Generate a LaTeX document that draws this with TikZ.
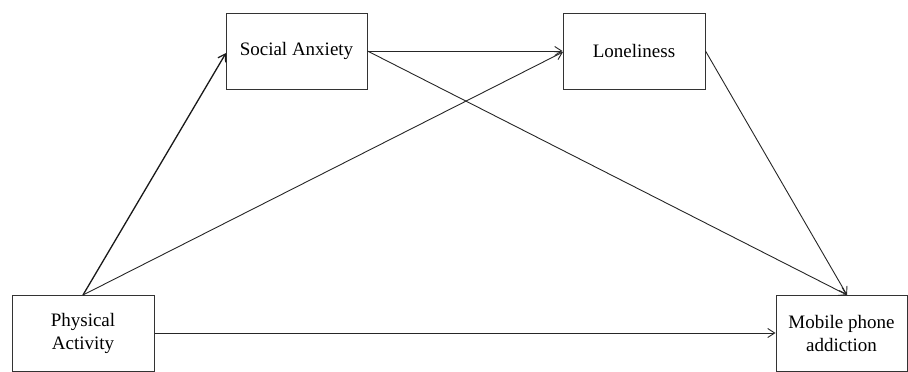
\documentclass[tikz,border=0pt]{standalone}
\usepackage{fontspec}
\setmainfont{Liberation Serif}
\usetikzlibrary{arrows.meta}
\begin{document}
\begin{tikzpicture}[x=1pt,y=-1pt,
  box/.style={draw=black!80, line width=1pt, rectangle, inner sep=0pt, align=center,
    font=\fontsize{19}{23}\selectfont},
  conn/.style={draw=black!85, line width=0.9pt, -{Straight Barb[length=7pt,width=9pt]}}]
\useasboundingbox (0,0) rectangle (908,372);
\node[box, minimum width=142pt, minimum height=76pt] (pa) at (83,333) {Physical\\Activity};
\node[box, minimum width=141pt, minimum height=76pt] (sa) at (296.5,51) {Social Anxiety};
\node[box, minimum width=142pt, minimum height=76pt] (lo) at (634,51) {Loneliness};
\node[box, minimum width=131pt, minimum height=76pt] (mp) at (841.5,333) {Mobile phone\\addiction};
\coordinate (paTop) at (83,295);
\coordinate (mpTop) at (847,295);
\coordinate (saIn) at (226,53);
\coordinate (loIn) at (563,52);
\draw[conn, line width=1.3pt, draw=black!90] (paTop) -- (saIn);
\draw[conn] (paTop) -- (loIn);
\draw[conn] (sa.east) -- (lo.west);
\draw[conn] (sa.east) -- (mpTop);
\draw[conn] (lo.east) -- (mpTop);
\draw[conn] (pa.east) -- (mp.west);
\end{tikzpicture}
\end{document}
